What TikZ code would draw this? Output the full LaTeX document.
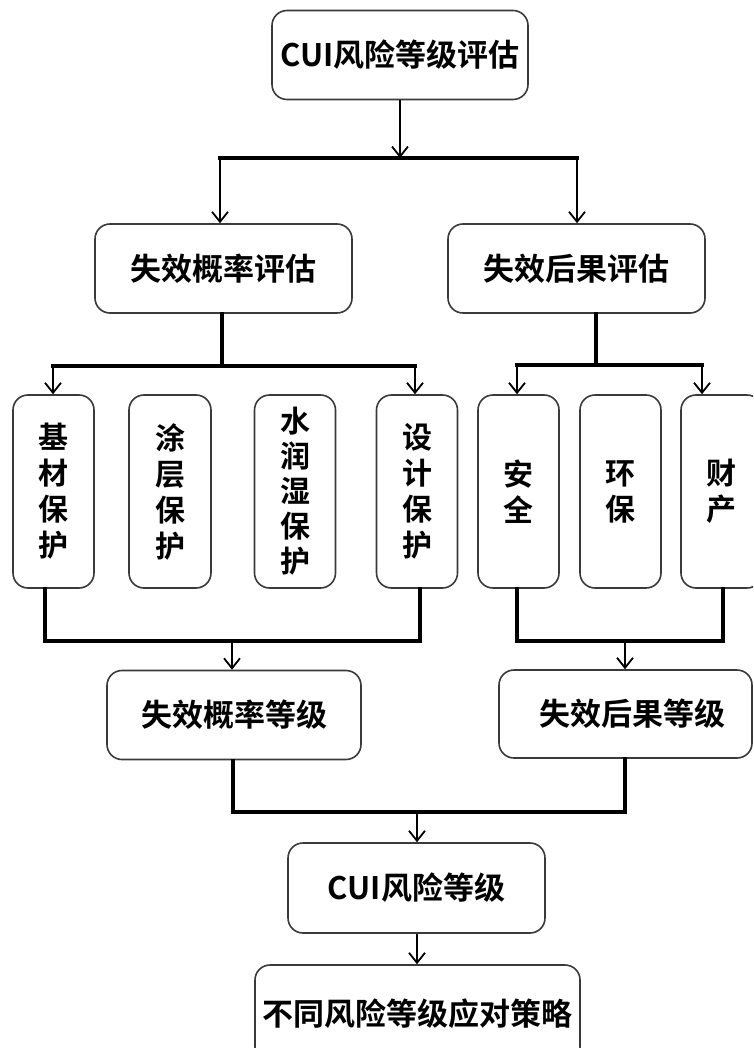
\documentclass[tikz,border=0pt]{standalone}
\usepackage{fontspec}
\newfontfamily\cjk{Noto Sans CJK SC}[BoldFont={Noto Sans CJK SC Bold}]
\usetikzlibrary{arrows.meta}
\definecolor{edge}{HTML}{3A3A3A}
\tikzset{
  box/.style={draw=edge, line width=1.6pt, rounded corners=15pt, fill=white,
    inner sep=0pt, align=center, font=\cjk\bfseries\fontsize{30}{36}\selectfont},
  wide/.style={box, minimum width=256pt, minimum height=89pt, font=\cjk\bfseries\fontsize{31}{36}\selectfont},
  tall/.style={box, minimum width=81pt, minimum height=193pt},
  bus/.style={line width=3.2pt, line cap=rect},
  arr/.style={line width=1.8pt, -{Straight Barb[length=10pt,width=16pt,line width=1.8pt]}},
}
\begin{document}
\begin{tikzpicture}[x=1pt,y=-1pt]
\useasboundingbox (0,0) rectangle (753,1048);
\clip (0,0) rectangle (753,1048);
% nodes
\node[wide] (top) at (400,55) {CUI风险等级评估};
\node[wide, minimum width=257pt] (pe) at (223.5,268.5) {失效概率评估};
\node[wide, minimum width=257pt] (ce) at (576.5,268.5) {失效后果评估};
\node[tall] (s1) at (53.5,491.5) {基\\材\\保\\护};
\node[tall, minimum width=82pt] (s2) at (170,491.5) {涂\\层\\保\\护};
\node[tall, font=\cjk\bfseries\fontsize{30}{35}\selectfont] (s3) at (295,491.5) {水\\润\\湿\\保\\护};
\node[tall] (s4) at (417,491.5) {设\\计\\保\\护};
\node[tall] (r1) at (518.5,491.5) {安\\全};
\node[tall] (r2) at (620.5,491.5) {环\\保};
\node[tall] (r3) at (721.5,491.5) {财\\产};
\node[wide, minimum width=254pt] (pl) at (234,715) {失效概率等级};
\node[wide, minimum width=253pt, minimum height=88pt] (cl) at (625.5,714) {\hspace*{14pt}失效后果等级};
\node[wide, minimum width=257pt, minimum height=90pt] (risk) at (416.5,888) {CUI风险等级};
\node[wide, minimum width=325pt, minimum height=97pt] (strat) at (417.5,1013.5) {不同风险等级应对策略};
% bus coordinates
\coordinate (b1) at (400,158);
\coordinate (b1l) at (220,158);
\coordinate (b1r) at (577,158);
\coordinate (b2) at (222,366);
\coordinate (b2l) at (53,366);
\coordinate (b2r) at (415,366);
\coordinate (b3) at (596,365);
\coordinate (b3l) at (517,365);
\coordinate (b3r) at (702,365);
\coordinate (b4l) at (45,641);
\coordinate (b4r) at (420,641);
\coordinate (b4) at (232,641);
\coordinate (b5l) at (517,641);
\coordinate (b5r) at (723,641);
\coordinate (b5) at (625,641);
\coordinate (b6l) at (233,812);
\coordinate (b6r) at (625,812);
\coordinate (b6) at (417,812);
% level 1
\draw[arr] (top.south -| b1) -- (b1);
\draw[bus] (b1l) -- (b1r);
\draw[arr] (b1l) -- (b1l |- pe.north);
\draw[arr] (b1r) -- (b1r |- ce.north);
% level 2 left
\draw[bus] (pe.south -| b2) -- (b2);
\draw[bus] (b2l) -- (b2r);
\draw[arr] (b2l) -- (b2l |- s1.north);
\draw[arr] (b2r) -- (b2r |- s4.north);
% level 2 right
\draw[bus] (ce.south -| b3) -- (b3);
\draw[bus] (b3l) -- (b3r);
\draw[arr] (b3l) -- (b3l |- r1.north);
\draw[arr] (b3r) -- (b3r |- r3.north);
% merge left
\draw[bus] (s1.south -| b4l) -- (b4l) -- (b4r) -- (s4.south -| b4r);
\draw[arr] (b4) -- (b4 |- pl.north);
% merge right
\draw[bus] (r1.south -| b5l) -- (b5l) -- (b5r) -- (r3.south -| b5r);
\draw[arr] (b5) -- (b5 |- cl.north);
% merge levels
\draw[bus] (pl.south -| b6l) -- (b6l) -- (b6r) -- (cl.south -| b6r);
\draw[arr] (b6) -- (b6 |- risk.north);
\draw[arr] (risk.south -| b6) -- (strat.north -| b6);
\end{tikzpicture}
\end{document}
